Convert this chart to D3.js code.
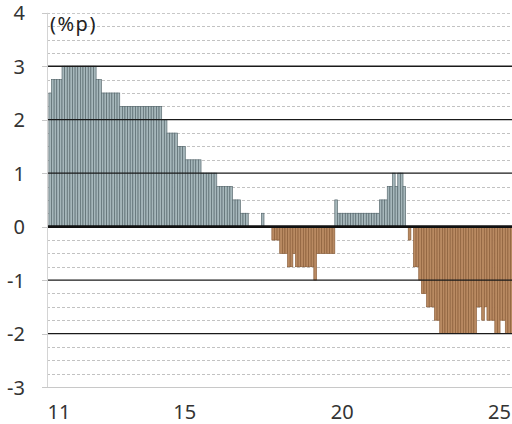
<!DOCTYPE html>
<html>
<head>
<meta charset="utf-8">
<script src="https://cdn.jsdelivr.net/npm/d3@7"></script>
<style>
  html, body { margin: 0; padding: 0; background: #fff; }
  svg { display: block; }
  text { font-family: "Noto Sans", "DejaVu Sans", sans-serif; }
</style>
</head>
<body>
<svg id="chart" width="512" height="424"></svg>
<script>
// Monthly rate differential (%p), Jan 2011 .. Sep 2025
const startYear = 2011;
const spread = [
  2.5, 2.75, 2.75, 2.75, 2.75, 3, 3, 3, 3, 3, 3, 3,
  3, 3, 3, 3, 3, 3, 2.75, 2.75, 2.5, 2.5, 2.5, 2.5,
  2.5, 2.5, 2.5, 2.25, 2.25, 2.25, 2.25, 2.25, 2.25, 2.25, 2.25, 2.25,
  2.25, 2.25, 2.25, 2.25, 2.25, 2.25, 2.25, 2, 2, 1.75, 1.75, 1.75,
  1.75, 1.5, 1.5, 1.5, 1.25, 1.25, 1.25, 1.25, 1.25, 1.25, 1, 1,
  1, 1, 1, 1, 0.75, 0.75, 0.75, 0.75, 0.75, 0.75, 0.5, 0.5,
  0.5, 0.25, 0.25, 0.25, 0, 0, 0, 0, 0, 0.25, 0, 0,
  0, -0.25, -0.25, -0.25, -0.5, -0.5, -0.5, -0.75, -0.75, -0.5, -0.75, -0.75,
  -0.75, -0.75, -0.75, -0.75, -0.75, -1, -0.5, -0.5, -0.5, -0.5, -0.5, -0.5,
  -0.5, 0.5, 0.25, 0.25, 0.25, 0.25, 0.25, 0.25, 0.25, 0.25, 0.25, 0.25,
  0.25, 0.25, 0.25, 0.25, 0.25, 0.25, 0.5, 0.5, 0.5, 0.75, 0.75, 1,
  0.75, 1, 1, 0.75, 0, -0.25, 0, -0.75, -0.75, -1, -1.25, -1.25,
  -1.5, -1.5, -1.5, -1.75, -1.75, -2, -2, -2, -2, -2, -2, -2,
  -2, -2, -2, -2, -2, -2, -2, -1.5, -1.5, -1.75, -1.5, -1.75,
  -1.75, -1.75, -2, -2, -1.75, -1.75, -2, -2, -2
];
const months = spread.map((v, i) => `${startYear + Math.floor(i / 12)}-${String(i % 12 + 1).padStart(2, "0")}`);
const yTicks = [4, 3, 2, 1, 0, -1, -2, -3];
const yTickLabels = ["4", "3", "2", "1", "0", "-1", "-2", "-3"];
const xTickMonths = ["2011-01", "2015-01", "2020-01", "2025-01"];
const xTickLabels = ["11", "15", "20", "25"];
const unitLabel = "(%p)";

const svg = d3.select("#chart");
const left = 48.9, step = 2.623;
const x = d3.scaleBand().domain(months).range([left, left + step * months.length]).padding(0);
const y = d3.scaleLinear().domain([-3, 4]).range([387, 12.8]);
const plotRight = 513;

// minor dashed gridlines
const minor = d3.range(-3, 4.001, 0.25).filter(v => Math.abs(v - Math.round(v)) > 1e-6);
svg.append("g").selectAll("line").data(minor).join("line")
  .attr("x1", 47).attr("x2", plotRight)
  .attr("y1", d => Math.round(y(d)) + 0.5).attr("y2", d => Math.round(y(d)) + 0.5)
  .attr("stroke", "#c2c2c2").attr("stroke-width", 1).attr("stroke-dasharray", "3,2");

// top and bottom light lines
svg.append("g").selectAll("line").data([4, -3]).join("line")
  .attr("x1", 47).attr("x2", plotRight)
  .attr("y1", d => Math.round(y(d)) + 0.5).attr("y2", d => Math.round(y(d)) + 0.5)
  .attr("stroke", "#c8c8c8").attr("stroke-width", 1)
  .attr("stroke-dasharray", d => d === 4 ? "3,2" : null);

// y axis line and ticks
svg.append("line").attr("x1", 47.5).attr("x2", 47.5).attr("y1", y(4)).attr("y2", y(-3))
  .attr("stroke", "#d4d4d4");
svg.append("g").selectAll("line").data(yTicks).join("line")
  .attr("x1", 42).attr("x2", 47.5)
  .attr("y1", d => Math.round(y(d)) + 0.5).attr("y2", d => Math.round(y(d)) + 0.5)
  .attr("stroke", "#c8c8c8");

// bars
svg.append("g").selectAll("rect").data(spread.map((v, i) => ({ m: months[i], v })).filter(d => d.v !== 0))
  .join("rect")
  .attr("x", d => x(d.m))
  .attr("width", x.bandwidth())
  .attr("y", d => d.v > 0 ? y(d.v) : y(0))
  .attr("height", d => Math.abs(y(d.v) - y(0)))
  .attr("fill", d => d.v > 0 ? "#a6b7bb" : "#b98a62")
  .attr("stroke", d => d.v > 0 ? "#5a6b70" : "#8c5f3a")
  .attr("stroke-width", 0.7);

// major solid gridlines
const major = [3, 2, 1, -1, -2];
svg.append("g").selectAll("line").data(major).join("line")
  .attr("x1", 48).attr("x2", plotRight)
  .attr("y1", d => y(d)).attr("y2", d => y(d))
  .attr("stroke", "#1a1a1a").attr("stroke-width", 1.3);
svg.append("line").attr("x1", 48).attr("x2", plotRight)
  .attr("y1", y(0)).attr("y2", y(0))
  .attr("stroke", "#111").attr("stroke-width", 2.6);

// y labels
svg.append("g").selectAll("text").data(yTicks).join("text")
  .attr("x", 25).attr("y", d => y(d))
  .attr("text-anchor", "end").attr("dominant-baseline", "central")
  .attr("font-size", 20).attr("fill", "#333")
  .text((d, i) => yTickLabels[i]);

// x labels
svg.append("g").selectAll("text").data(xTickMonths).join("text")
  .attr("x", d => x(d) + 10).attr("y", 411)
  .attr("text-anchor", "middle").attr("dominant-baseline", "central")
  .attr("font-size", 20).attr("fill", "#333")
  .text((d, i) => xTickLabels[i]);

// unit label
svg.append("text").attr("x", 50).attr("y", 31)
  .attr("font-size", 20).attr("fill", "#222").attr("letter-spacing", 1.5)
  .text(unitLabel);
</script>
</body>
</html>
